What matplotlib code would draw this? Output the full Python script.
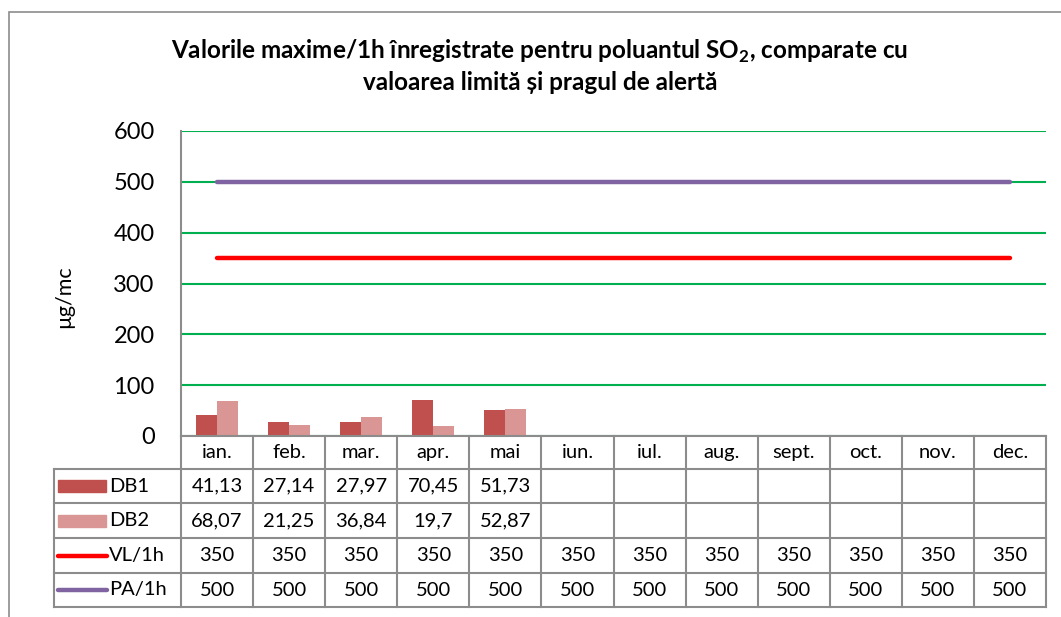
import matplotlib
matplotlib.use('agg')
import matplotlib.pyplot as plt
from matplotlib.transforms import blended_transform_factory
from matplotlib.patches import Rectangle

luni = ['ian.', 'feb.', 'mar.', 'apr.', 'mai', 'iun.', 'iul.', 'aug.',
        'sept.', 'oct.', 'nov.', 'dec.']
db1 = [41.13, 27.14, 27.97, 70.45, 51.73, None, None, None, None, None, None, None]
db2 = [68.07, 21.25, 36.84, 19.7, 52.87, None, None, None, None, None, None, None]
vl_1h = [350, 350, 350, 350, 350, 350, 350, 350, 350, 350, 350, 350]
pa_1h = [500, 500, 500, 500, 500, 500, 500, 500, 500, 500, 500, 500]
y_ticks = [0, 100, 200, 300, 400, 500, 600]

C_DB1 = '#C0504D'
C_DB2 = '#D99694'
C_VL = '#FF0000'
C_PA = '#8064A2'
C_GRID = '#00B050'
C_EDGE = '#8C8C8C'

plt.rcParams['font.family'] = ['Lato', 'DejaVu Sans']
plt.rcParams['mathtext.fontset'] = 'custom'
plt.rcParams['mathtext.rm'] = 'Lato'
plt.rcParams['mathtext.bf'] = 'Lato:bold'

W, H = 1061, 617
fig = plt.figure(figsize=(W / 100, H / 100), dpi=100)
fig.patches.append(Rectangle((9 / W, -0.2), 1.5, 1.2 - 12 / H,
                             transform=fig.transFigure, fill=False,
                             edgecolor=C_EDGE, lw=1.2))

ax_left, ax_right, ax_top, ax_bot = 181, 1046, 131, 436
ax = fig.add_axes([ax_left / W, 1 - ax_bot / H, (ax_right - ax_left) / W,
                   (ax_bot - ax_top) / H])

x = list(range(len(luni)))
bw = 0.29
v1 = [v if v is not None else 0 for v in db1]
v2 = [v if v is not None else 0 for v in db2]
ax.bar([i - bw / 2 for i in x], v1, width=bw, color=C_DB1, zorder=3)
ax.bar([i + bw / 2 for i in x], v2, width=bw, color=C_DB2, zorder=3)
ax.plot(x, vl_1h, color=C_VL, lw=3.2, solid_capstyle='round', zorder=4)
ax.plot(x, pa_1h, color=C_PA, lw=3.2, solid_capstyle='round', zorder=4)

ax.set_xlim(-0.5, 11.5)
ax.set_ylim(0, 600)
ax.set_yticks(y_ticks)
ax.set_xticks([])
ax.tick_params(axis='y', length=0, labelsize=17, pad=19)
ax.yaxis.grid(True, color=C_GRID, lw=1.5, zorder=0)
for s in ['top', 'right', 'bottom']:
    ax.spines[s].set_visible(False)
ax.spines['left'].set_color(C_EDGE)
ax.spines['left'].set_linewidth(1.5)

fig.text(64 / W, 1 - 297 / H, 'µg/mc', rotation=90, fontsize=15.5,
         ha='center', va='center')

fig.text(540 / W, 1 - 66 / H,
         'Valorile maxime/1h înregistrate pentru poluantul SO$_\\mathbf{2}$, comparate cu\n'
         'valoarea limită și pragul de alertă',
         fontsize=17.5, fontweight='bold', ha='center', va='center',
         linespacing=1.3)

# data table under the axis
tr = blended_transform_factory(ax.transData, ax.transAxes)
px_per_unit = (ax_right - ax_left) / 12.0
row_px = [436, 469, 503, 538, 573, 607]
ry = [(ax_bot - p) / (ax_bot - ax_top) for p in row_px]
x_lab = -0.5 - (ax_left - 54) / px_per_unit

def dx(px):
    return -0.5 - (ax_left - px) / px_per_unit

kw = dict(color=C_EDGE, lw=1.5, transform=tr, clip_on=False, zorder=5)
ax.plot([-0.5, 11.5], [ry[0], ry[0]], **kw)
for y in ry[1:]:
    ax.plot([x_lab, 11.5], [y, y], **kw)
for i in range(13):
    ax.plot([i - 0.5, i - 0.5], [ry[0], ry[-1]], **kw)
ax.plot([x_lab, x_lab], [ry[1], ry[-1]], **kw)

tkw = dict(transform=tr, fontsize=14.5, ha='center', va='center', clip_on=False)
for i, m in enumerate(luni):
    ax.text(i, (ry[0] + ry[1]) / 2, m, **tkw)

rows = [('DB1', db1), ('DB2', db2), ('VL/1h', vl_1h), ('PA/1h', pa_1h)]
for r, (name, vals) in enumerate(rows):
    yc = (ry[r + 1] + ry[r + 2]) / 2
    for i, v in enumerate(vals):
        if v is None:
            continue
        ax.text(i, yc, str(v).replace('.', ','), **tkw)
    ax.text(dx(109), yc, name, transform=tr, fontsize=14.5, ha='left',
            va='center', clip_on=False)

yh = 12 / (ax_bot - ax_top)
for r, c in [(0, C_DB1), (1, C_DB2)]:
    yc = (ry[r + 1] + ry[r + 2]) / 2
    ax.add_patch(Rectangle((dx(58), yc - yh / 2), dx(106) - dx(58), yh,
                           color=c, transform=tr, clip_on=False))
for r, c in [(2, C_VL), (3, C_PA)]:
    yc = (ry[r + 1] + ry[r + 2]) / 2
    ax.plot([dx(58), dx(107)], [yc, yc], color=c, lw=3.2,
            solid_capstyle='round', transform=tr, clip_on=False)

fig.savefig('out.png', dpi=100)
